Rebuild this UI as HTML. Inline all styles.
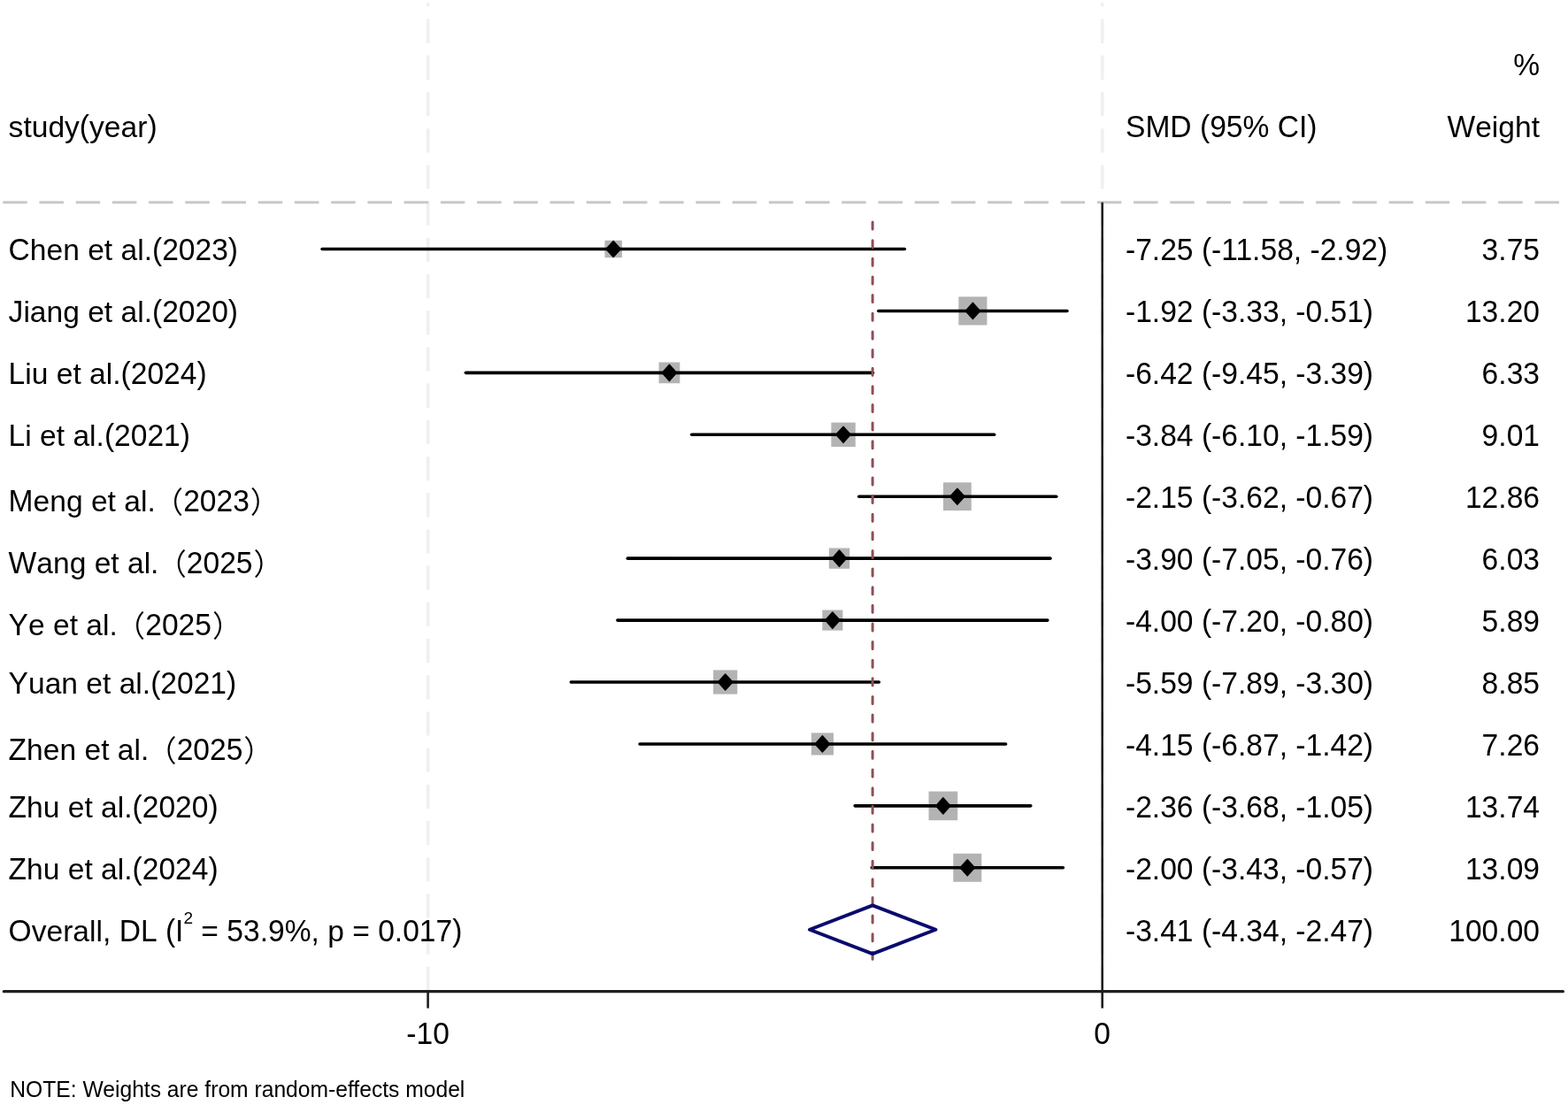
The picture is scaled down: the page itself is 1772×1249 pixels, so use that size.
<!DOCTYPE html>
<html><head><meta charset="utf-8"><title>Forest plot</title>
<style>
html,body{margin:0;padding:0;background:#fff;}
body{width:1772px;height:1249px;overflow:hidden;}
svg{display:block;}
text{font-family:"Liberation Sans","Noto Sans CJK SC",Arial,sans-serif;fill:#000;white-space:pre;}
.cj{font-family:"Noto Sans CJK SC","Liberation Sans",sans-serif;font-weight:350;}
</style></head>
<body>
<svg width="1772" height="1249" viewBox="0 0 1772 1249">
<rect x="0" y="0" width="1772" height="1249" fill="#fff"/>
<g>
<line x1="483.7" y1="3" x2="483.7" y2="1119" stroke="#f0f0f0" stroke-width="3.8" stroke-dasharray="27.2 14" stroke-dashoffset="22.6"/>
<line x1="1245.7" y1="3" x2="1245.7" y2="1119" stroke="#f0f0f0" stroke-width="3.8" stroke-dasharray="27.2 14" stroke-dashoffset="22.6"/>
<line x1="3.2" y1="228.8" x2="1766" y2="228.8" stroke="#c8c8c8" stroke-width="2.9" stroke-dasharray="27.5 13.72"/>
<line x1="1245.7" y1="228.8" x2="1245.7" y2="1120.4" stroke="#141414" stroke-width="2.4"/>
<line x1="4.3" y1="1120.7" x2="1766.4" y2="1120.7" stroke="#202020" stroke-width="3.2" stroke-linecap="round"/>
<line x1="483.6" y1="1120" x2="483.6" y2="1139.6" stroke="#1e1e1e" stroke-width="2.6"/>
<line x1="1245.7" y1="1120" x2="1245.7" y2="1139.6" stroke="#1e1e1e" stroke-width="2.6"/>
<rect x="683.47" y="271.79" width="19.42" height="19.42" fill="#b3b3b3"/>
<line x1="364.09" y1="281.50" x2="1022.27" y2="281.50" stroke="#000" stroke-width="3.6" stroke-linecap="round"/>
<polygon points="684.98,281.50 693.18,272.40 701.38,281.50 693.18,290.60" fill="#000" stroke="#000" stroke-width="1.4" stroke-linejoin="round"/>
<rect x="1083.32" y="335.37" width="32.12" height="32.12" fill="#b3b3b3"/>
<line x1="992.82" y1="351.43" x2="1205.93" y2="351.43" stroke="#000" stroke-width="3.6" stroke-linecap="round"/>
<polygon points="1091.18,351.43 1099.38,342.33 1107.58,351.43 1099.38,360.53" fill="#000" stroke="#000" stroke-width="1.4" stroke-linejoin="round"/>
<rect x="744.55" y="409.48" width="23.76" height="23.76" fill="#b3b3b3"/>
<line x1="526.42" y1="421.36" x2="986.45" y2="421.36" stroke="#000" stroke-width="3.6" stroke-linecap="round"/>
<polygon points="748.23,421.36 756.43,412.26 764.63,421.36 756.43,430.46" fill="#000" stroke="#000" stroke-width="1.4" stroke-linejoin="round"/>
<rect x="939.36" y="477.59" width="27.39" height="27.39" fill="#b3b3b3"/>
<line x1="781.72" y1="491.29" x2="1123.63" y2="491.29" stroke="#000" stroke-width="3.6" stroke-linecap="round"/>
<polygon points="944.85,491.29 953.05,482.19 961.25,491.29 953.05,500.39" fill="#000" stroke="#000" stroke-width="1.4" stroke-linejoin="round"/>
<rect x="1065.97" y="545.34" width="31.76" height="31.76" fill="#b3b3b3"/>
<line x1="970.72" y1="561.22" x2="1193.74" y2="561.22" stroke="#000" stroke-width="3.6" stroke-linecap="round"/>
<polygon points="1073.65,561.22 1081.85,552.12 1090.05,561.22 1081.85,570.32" fill="#000" stroke="#000" stroke-width="1.4" stroke-linejoin="round"/>
<rect x="936.83" y="619.50" width="23.31" height="23.31" fill="#b3b3b3"/>
<line x1="709.32" y1="631.15" x2="1186.88" y2="631.15" stroke="#000" stroke-width="3.6" stroke-linecap="round"/>
<polygon points="940.28,631.15 948.48,622.05 956.68,631.15 948.48,640.25" fill="#000" stroke="#000" stroke-width="1.4" stroke-linejoin="round"/>
<rect x="929.31" y="689.53" width="23.09" height="23.09" fill="#b3b3b3"/>
<line x1="697.89" y1="701.08" x2="1183.83" y2="701.08" stroke="#000" stroke-width="3.6" stroke-linecap="round"/>
<polygon points="932.66,701.08 940.86,691.98 949.06,701.08 940.86,710.18" fill="#000" stroke="#000" stroke-width="1.4" stroke-linejoin="round"/>
<rect x="806.09" y="757.41" width="27.19" height="27.19" fill="#b3b3b3"/>
<line x1="645.30" y1="771.01" x2="993.31" y2="771.01" stroke="#000" stroke-width="3.6" stroke-linecap="round"/>
<polygon points="811.49,771.01 819.69,761.91 827.89,771.01 819.69,780.11" fill="#000" stroke="#000" stroke-width="1.4" stroke-linejoin="round"/>
<rect x="916.88" y="828.39" width="25.09" height="25.09" fill="#b3b3b3"/>
<line x1="723.04" y1="840.94" x2="1136.58" y2="840.94" stroke="#000" stroke-width="3.6" stroke-linecap="round"/>
<polygon points="921.23,840.94 929.43,831.84 937.63,840.94 929.43,850.04" fill="#000" stroke="#000" stroke-width="1.4" stroke-linejoin="round"/>
<rect x="1049.51" y="894.54" width="32.67" height="32.67" fill="#b3b3b3"/>
<line x1="966.15" y1="910.87" x2="1164.78" y2="910.87" stroke="#000" stroke-width="3.6" stroke-linecap="round"/>
<polygon points="1057.64,910.87 1065.84,901.77 1074.04,910.87 1065.84,919.97" fill="#000" stroke="#000" stroke-width="1.4" stroke-linejoin="round"/>
<rect x="1077.28" y="964.80" width="32.00" height="32.00" fill="#b3b3b3"/>
<line x1="985.20" y1="980.80" x2="1201.36" y2="980.80" stroke="#000" stroke-width="3.6" stroke-linecap="round"/>
<polygon points="1085.08,980.80 1093.28,971.70 1101.48,980.80 1093.28,989.90" fill="#000" stroke="#000" stroke-width="1.4" stroke-linejoin="round"/>
<line x1="986.10" y1="250" x2="986.10" y2="1085.5" stroke="#8e4f56" stroke-width="3.0" stroke-dasharray="8 12.63" stroke-linecap="round" stroke-dashoffset="-1.1"/>
<polygon points="914.95,1050.73 986.10,1023.33 1057.46,1050.73 986.10,1078.13" fill="none" stroke="#0a0a6e" stroke-width="3.9" stroke-linejoin="round"/>
</g>
<text x="9.6" y="154.80" font-size="33.6" text-anchor="start"><tspan font-size="33.2" textLength="80.27" lengthAdjust="spacingAndGlyphs">study</tspan><tspan font-size="35.2" textLength="11.19" lengthAdjust="spacingAndGlyphs">(</tspan><tspan font-size="33.2" textLength="65.33" lengthAdjust="spacingAndGlyphs">year</tspan><tspan font-size="35.2" textLength="11.19" lengthAdjust="spacingAndGlyphs">)</tspan></text>
<text x="1272" y="154.80" font-size="33.6" text-anchor="start"><tspan font-size="35.2" textLength="74.62" lengthAdjust="spacingAndGlyphs">SMD</tspan><tspan font-size="33.2" textLength="9.34" lengthAdjust="spacingAndGlyphs"> </tspan><tspan font-size="35.2" textLength="78.39" lengthAdjust="spacingAndGlyphs">(95%</tspan><tspan font-size="33.2" textLength="9.34" lengthAdjust="spacingAndGlyphs"> </tspan><tspan font-size="35.2" textLength="44.77" lengthAdjust="spacingAndGlyphs">CI)</tspan></text>
<text x="1740" y="154.80" font-size="33.6" text-anchor="end"><tspan font-size="35.2" textLength="31.70" lengthAdjust="spacingAndGlyphs">W</tspan><tspan font-size="33.2" textLength="72.83" lengthAdjust="spacingAndGlyphs">eight</tspan></text>
<text x="1740" y="84.60" font-size="33.6" text-anchor="end"><tspan font-size="35.2" textLength="29.86" lengthAdjust="spacingAndGlyphs">%</tspan></text>
<text x="9.6" y="293.80" font-size="33.6" text-anchor="start"><tspan font-size="35.2" textLength="24.25" lengthAdjust="spacingAndGlyphs">C</tspan><tspan font-size="33.2" textLength="138.16" lengthAdjust="spacingAndGlyphs">hen et al.</tspan><tspan font-size="35.2" textLength="97.06" lengthAdjust="spacingAndGlyphs">(2023)</tspan></text>
<text x="1272" y="293.80" font-size="33.6" text-anchor="start"><tspan font-size="35.2" textLength="29.86" lengthAdjust="spacingAndGlyphs">-7</tspan><tspan font-size="33.2" textLength="9.34" lengthAdjust="spacingAndGlyphs">.</tspan><tspan font-size="35.2" textLength="37.36" lengthAdjust="spacingAndGlyphs">25</tspan><tspan font-size="33.2" textLength="9.34" lengthAdjust="spacingAndGlyphs"> </tspan><tspan font-size="35.2" textLength="57.23" lengthAdjust="spacingAndGlyphs">(-11</tspan><tspan font-size="33.2" textLength="9.34" lengthAdjust="spacingAndGlyphs">.</tspan><tspan font-size="35.2" textLength="37.36" lengthAdjust="spacingAndGlyphs">58</tspan><tspan font-size="33.2" textLength="18.67" lengthAdjust="spacingAndGlyphs">, </tspan><tspan font-size="35.2" textLength="29.86" lengthAdjust="spacingAndGlyphs">-2</tspan><tspan font-size="33.2" textLength="9.34" lengthAdjust="spacingAndGlyphs">.</tspan><tspan font-size="35.2" textLength="48.53" lengthAdjust="spacingAndGlyphs">92)</tspan></text>
<text x="1740" y="293.80" font-size="33.6" text-anchor="end"><tspan font-size="35.2" textLength="18.69" lengthAdjust="spacingAndGlyphs">3</tspan><tspan font-size="33.2" textLength="9.34" lengthAdjust="spacingAndGlyphs">.</tspan><tspan font-size="35.2" textLength="37.36" lengthAdjust="spacingAndGlyphs">75</tspan></text>
<text x="9.6" y="363.85" font-size="33.6" text-anchor="start"><tspan font-size="35.2" textLength="16.80" lengthAdjust="spacingAndGlyphs">J</tspan><tspan font-size="33.2" textLength="145.61" lengthAdjust="spacingAndGlyphs">iang et al.</tspan><tspan font-size="35.2" textLength="97.06" lengthAdjust="spacingAndGlyphs">(2020)</tspan></text>
<text x="1272" y="363.85" font-size="33.6" text-anchor="start"><tspan font-size="35.2" textLength="29.86" lengthAdjust="spacingAndGlyphs">-1</tspan><tspan font-size="33.2" textLength="9.34" lengthAdjust="spacingAndGlyphs">.</tspan><tspan font-size="35.2" textLength="37.36" lengthAdjust="spacingAndGlyphs">92</tspan><tspan font-size="33.2" textLength="9.34" lengthAdjust="spacingAndGlyphs"> </tspan><tspan font-size="35.2" textLength="41.05" lengthAdjust="spacingAndGlyphs">(-3</tspan><tspan font-size="33.2" textLength="9.34" lengthAdjust="spacingAndGlyphs">.</tspan><tspan font-size="35.2" textLength="37.36" lengthAdjust="spacingAndGlyphs">33</tspan><tspan font-size="33.2" textLength="18.67" lengthAdjust="spacingAndGlyphs">, </tspan><tspan font-size="35.2" textLength="29.86" lengthAdjust="spacingAndGlyphs">-0</tspan><tspan font-size="33.2" textLength="9.34" lengthAdjust="spacingAndGlyphs">.</tspan><tspan font-size="35.2" textLength="48.53" lengthAdjust="spacingAndGlyphs">51)</tspan></text>
<text x="1740" y="363.85" font-size="33.6" text-anchor="end"><tspan font-size="35.2" textLength="37.36" lengthAdjust="spacingAndGlyphs">13</tspan><tspan font-size="33.2" textLength="9.34" lengthAdjust="spacingAndGlyphs">.</tspan><tspan font-size="35.2" textLength="37.36" lengthAdjust="spacingAndGlyphs">20</tspan></text>
<text x="9.6" y="433.90" font-size="33.6" text-anchor="start"><tspan font-size="35.2" textLength="18.69" lengthAdjust="spacingAndGlyphs">L</tspan><tspan font-size="33.2" textLength="108.27" lengthAdjust="spacingAndGlyphs">iu et al.</tspan><tspan font-size="35.2" textLength="97.06" lengthAdjust="spacingAndGlyphs">(2024)</tspan></text>
<text x="1272" y="433.90" font-size="33.6" text-anchor="start"><tspan font-size="35.2" textLength="29.86" lengthAdjust="spacingAndGlyphs">-6</tspan><tspan font-size="33.2" textLength="9.34" lengthAdjust="spacingAndGlyphs">.</tspan><tspan font-size="35.2" textLength="37.36" lengthAdjust="spacingAndGlyphs">42</tspan><tspan font-size="33.2" textLength="9.34" lengthAdjust="spacingAndGlyphs"> </tspan><tspan font-size="35.2" textLength="41.05" lengthAdjust="spacingAndGlyphs">(-9</tspan><tspan font-size="33.2" textLength="9.34" lengthAdjust="spacingAndGlyphs">.</tspan><tspan font-size="35.2" textLength="37.36" lengthAdjust="spacingAndGlyphs">45</tspan><tspan font-size="33.2" textLength="18.67" lengthAdjust="spacingAndGlyphs">, </tspan><tspan font-size="35.2" textLength="29.86" lengthAdjust="spacingAndGlyphs">-3</tspan><tspan font-size="33.2" textLength="9.34" lengthAdjust="spacingAndGlyphs">.</tspan><tspan font-size="35.2" textLength="48.53" lengthAdjust="spacingAndGlyphs">39)</tspan></text>
<text x="1740" y="433.90" font-size="33.6" text-anchor="end"><tspan font-size="35.2" textLength="18.69" lengthAdjust="spacingAndGlyphs">6</tspan><tspan font-size="33.2" textLength="9.34" lengthAdjust="spacingAndGlyphs">.</tspan><tspan font-size="35.2" textLength="37.36" lengthAdjust="spacingAndGlyphs">33</tspan></text>
<text x="9.6" y="503.95" font-size="33.6" text-anchor="start"><tspan font-size="35.2" textLength="18.69" lengthAdjust="spacingAndGlyphs">L</tspan><tspan font-size="33.2" textLength="89.59" lengthAdjust="spacingAndGlyphs">i et al.</tspan><tspan font-size="35.2" textLength="97.06" lengthAdjust="spacingAndGlyphs">(2021)</tspan></text>
<text x="1272" y="503.95" font-size="33.6" text-anchor="start"><tspan font-size="35.2" textLength="29.86" lengthAdjust="spacingAndGlyphs">-3</tspan><tspan font-size="33.2" textLength="9.34" lengthAdjust="spacingAndGlyphs">.</tspan><tspan font-size="35.2" textLength="37.36" lengthAdjust="spacingAndGlyphs">84</tspan><tspan font-size="33.2" textLength="9.34" lengthAdjust="spacingAndGlyphs"> </tspan><tspan font-size="35.2" textLength="41.05" lengthAdjust="spacingAndGlyphs">(-6</tspan><tspan font-size="33.2" textLength="9.34" lengthAdjust="spacingAndGlyphs">.</tspan><tspan font-size="35.2" textLength="37.36" lengthAdjust="spacingAndGlyphs">10</tspan><tspan font-size="33.2" textLength="18.67" lengthAdjust="spacingAndGlyphs">, </tspan><tspan font-size="35.2" textLength="29.86" lengthAdjust="spacingAndGlyphs">-1</tspan><tspan font-size="33.2" textLength="9.34" lengthAdjust="spacingAndGlyphs">.</tspan><tspan font-size="35.2" textLength="48.53" lengthAdjust="spacingAndGlyphs">59)</tspan></text>
<text x="1740" y="503.95" font-size="33.6" text-anchor="end"><tspan font-size="35.2" textLength="18.69" lengthAdjust="spacingAndGlyphs">9</tspan><tspan font-size="33.2" textLength="9.34" lengthAdjust="spacingAndGlyphs">.</tspan><tspan font-size="35.2" textLength="37.36" lengthAdjust="spacingAndGlyphs">01</tspan></text>
<text x="9.6" y="578.30" font-size="33.6" text-anchor="start"><tspan font-size="35.2" textLength="27.98" lengthAdjust="spacingAndGlyphs">M</tspan><tspan font-size="33.2" textLength="138.16" lengthAdjust="spacingAndGlyphs">eng et al.</tspan><tspan class="cj" dx="-2.2" dy="2">（</tspan><tspan dy="-2" font-size="35.2" textLength="74.70" lengthAdjust="spacingAndGlyphs">2023</tspan><tspan class="cj" dx="1" dy="2">）</tspan></text>
<text x="1272" y="574.00" font-size="33.6" text-anchor="start"><tspan font-size="35.2" textLength="29.86" lengthAdjust="spacingAndGlyphs">-2</tspan><tspan font-size="33.2" textLength="9.34" lengthAdjust="spacingAndGlyphs">.</tspan><tspan font-size="35.2" textLength="37.36" lengthAdjust="spacingAndGlyphs">15</tspan><tspan font-size="33.2" textLength="9.34" lengthAdjust="spacingAndGlyphs"> </tspan><tspan font-size="35.2" textLength="41.05" lengthAdjust="spacingAndGlyphs">(-3</tspan><tspan font-size="33.2" textLength="9.34" lengthAdjust="spacingAndGlyphs">.</tspan><tspan font-size="35.2" textLength="37.36" lengthAdjust="spacingAndGlyphs">62</tspan><tspan font-size="33.2" textLength="18.67" lengthAdjust="spacingAndGlyphs">, </tspan><tspan font-size="35.2" textLength="29.86" lengthAdjust="spacingAndGlyphs">-0</tspan><tspan font-size="33.2" textLength="9.34" lengthAdjust="spacingAndGlyphs">.</tspan><tspan font-size="35.2" textLength="48.53" lengthAdjust="spacingAndGlyphs">67)</tspan></text>
<text x="1740" y="574.00" font-size="33.6" text-anchor="end"><tspan font-size="35.2" textLength="37.36" lengthAdjust="spacingAndGlyphs">12</tspan><tspan font-size="33.2" textLength="9.34" lengthAdjust="spacingAndGlyphs">.</tspan><tspan font-size="35.2" textLength="37.36" lengthAdjust="spacingAndGlyphs">86</tspan></text>
<text x="9.6" y="648.35" font-size="33.6" text-anchor="start"><tspan font-size="35.2" textLength="31.70" lengthAdjust="spacingAndGlyphs">W</tspan><tspan font-size="33.2" textLength="138.16" lengthAdjust="spacingAndGlyphs">ang et al.</tspan><tspan class="cj" dx="-2.2" dy="2">（</tspan><tspan dy="-2" font-size="35.2" textLength="74.70" lengthAdjust="spacingAndGlyphs">2025</tspan><tspan class="cj" dx="1" dy="2">）</tspan></text>
<text x="1272" y="644.05" font-size="33.6" text-anchor="start"><tspan font-size="35.2" textLength="29.86" lengthAdjust="spacingAndGlyphs">-3</tspan><tspan font-size="33.2" textLength="9.34" lengthAdjust="spacingAndGlyphs">.</tspan><tspan font-size="35.2" textLength="37.36" lengthAdjust="spacingAndGlyphs">90</tspan><tspan font-size="33.2" textLength="9.34" lengthAdjust="spacingAndGlyphs"> </tspan><tspan font-size="35.2" textLength="41.05" lengthAdjust="spacingAndGlyphs">(-7</tspan><tspan font-size="33.2" textLength="9.34" lengthAdjust="spacingAndGlyphs">.</tspan><tspan font-size="35.2" textLength="37.36" lengthAdjust="spacingAndGlyphs">05</tspan><tspan font-size="33.2" textLength="18.67" lengthAdjust="spacingAndGlyphs">, </tspan><tspan font-size="35.2" textLength="29.86" lengthAdjust="spacingAndGlyphs">-0</tspan><tspan font-size="33.2" textLength="9.34" lengthAdjust="spacingAndGlyphs">.</tspan><tspan font-size="35.2" textLength="48.53" lengthAdjust="spacingAndGlyphs">76)</tspan></text>
<text x="1740" y="644.05" font-size="33.6" text-anchor="end"><tspan font-size="35.2" textLength="18.69" lengthAdjust="spacingAndGlyphs">6</tspan><tspan font-size="33.2" textLength="9.34" lengthAdjust="spacingAndGlyphs">.</tspan><tspan font-size="35.2" textLength="37.36" lengthAdjust="spacingAndGlyphs">03</tspan></text>
<text x="9.6" y="718.40" font-size="33.6" text-anchor="start"><tspan font-size="35.2" textLength="22.41" lengthAdjust="spacingAndGlyphs">Y</tspan><tspan font-size="33.2" textLength="100.81" lengthAdjust="spacingAndGlyphs">e et al.</tspan><tspan class="cj" dx="-2.2" dy="2">（</tspan><tspan dy="-2" font-size="35.2" textLength="74.70" lengthAdjust="spacingAndGlyphs">2025</tspan><tspan class="cj" dx="1" dy="2">）</tspan></text>
<text x="1272" y="714.10" font-size="33.6" text-anchor="start"><tspan font-size="35.2" textLength="29.86" lengthAdjust="spacingAndGlyphs">-4</tspan><tspan font-size="33.2" textLength="9.34" lengthAdjust="spacingAndGlyphs">.</tspan><tspan font-size="35.2" textLength="37.36" lengthAdjust="spacingAndGlyphs">00</tspan><tspan font-size="33.2" textLength="9.34" lengthAdjust="spacingAndGlyphs"> </tspan><tspan font-size="35.2" textLength="41.05" lengthAdjust="spacingAndGlyphs">(-7</tspan><tspan font-size="33.2" textLength="9.34" lengthAdjust="spacingAndGlyphs">.</tspan><tspan font-size="35.2" textLength="37.36" lengthAdjust="spacingAndGlyphs">20</tspan><tspan font-size="33.2" textLength="18.67" lengthAdjust="spacingAndGlyphs">, </tspan><tspan font-size="35.2" textLength="29.86" lengthAdjust="spacingAndGlyphs">-0</tspan><tspan font-size="33.2" textLength="9.34" lengthAdjust="spacingAndGlyphs">.</tspan><tspan font-size="35.2" textLength="48.53" lengthAdjust="spacingAndGlyphs">80)</tspan></text>
<text x="1740" y="714.10" font-size="33.6" text-anchor="end"><tspan font-size="35.2" textLength="18.69" lengthAdjust="spacingAndGlyphs">5</tspan><tspan font-size="33.2" textLength="9.34" lengthAdjust="spacingAndGlyphs">.</tspan><tspan font-size="35.2" textLength="37.36" lengthAdjust="spacingAndGlyphs">89</tspan></text>
<text x="9.6" y="784.15" font-size="33.6" text-anchor="start"><tspan font-size="35.2" textLength="22.41" lengthAdjust="spacingAndGlyphs">Y</tspan><tspan font-size="33.2" textLength="138.16" lengthAdjust="spacingAndGlyphs">uan et al.</tspan><tspan font-size="35.2" textLength="97.06" lengthAdjust="spacingAndGlyphs">(2021)</tspan></text>
<text x="1272" y="784.15" font-size="33.6" text-anchor="start"><tspan font-size="35.2" textLength="29.86" lengthAdjust="spacingAndGlyphs">-5</tspan><tspan font-size="33.2" textLength="9.34" lengthAdjust="spacingAndGlyphs">.</tspan><tspan font-size="35.2" textLength="37.36" lengthAdjust="spacingAndGlyphs">59</tspan><tspan font-size="33.2" textLength="9.34" lengthAdjust="spacingAndGlyphs"> </tspan><tspan font-size="35.2" textLength="41.05" lengthAdjust="spacingAndGlyphs">(-7</tspan><tspan font-size="33.2" textLength="9.34" lengthAdjust="spacingAndGlyphs">.</tspan><tspan font-size="35.2" textLength="37.36" lengthAdjust="spacingAndGlyphs">89</tspan><tspan font-size="33.2" textLength="18.67" lengthAdjust="spacingAndGlyphs">, </tspan><tspan font-size="35.2" textLength="29.86" lengthAdjust="spacingAndGlyphs">-3</tspan><tspan font-size="33.2" textLength="9.34" lengthAdjust="spacingAndGlyphs">.</tspan><tspan font-size="35.2" textLength="48.53" lengthAdjust="spacingAndGlyphs">30)</tspan></text>
<text x="1740" y="784.15" font-size="33.6" text-anchor="end"><tspan font-size="35.2" textLength="18.69" lengthAdjust="spacingAndGlyphs">8</tspan><tspan font-size="33.2" textLength="9.34" lengthAdjust="spacingAndGlyphs">.</tspan><tspan font-size="35.2" textLength="37.36" lengthAdjust="spacingAndGlyphs">85</tspan></text>
<text x="9.6" y="858.50" font-size="33.6" text-anchor="start"><tspan font-size="35.2" textLength="20.52" lengthAdjust="spacingAndGlyphs">Z</tspan><tspan font-size="33.2" textLength="138.16" lengthAdjust="spacingAndGlyphs">hen et al.</tspan><tspan class="cj" dx="-2.2" dy="2">（</tspan><tspan dy="-2" font-size="35.2" textLength="74.70" lengthAdjust="spacingAndGlyphs">2025</tspan><tspan class="cj" dx="1" dy="2">）</tspan></text>
<text x="1272" y="854.20" font-size="33.6" text-anchor="start"><tspan font-size="35.2" textLength="29.86" lengthAdjust="spacingAndGlyphs">-4</tspan><tspan font-size="33.2" textLength="9.34" lengthAdjust="spacingAndGlyphs">.</tspan><tspan font-size="35.2" textLength="37.36" lengthAdjust="spacingAndGlyphs">15</tspan><tspan font-size="33.2" textLength="9.34" lengthAdjust="spacingAndGlyphs"> </tspan><tspan font-size="35.2" textLength="41.05" lengthAdjust="spacingAndGlyphs">(-6</tspan><tspan font-size="33.2" textLength="9.34" lengthAdjust="spacingAndGlyphs">.</tspan><tspan font-size="35.2" textLength="37.36" lengthAdjust="spacingAndGlyphs">87</tspan><tspan font-size="33.2" textLength="18.67" lengthAdjust="spacingAndGlyphs">, </tspan><tspan font-size="35.2" textLength="29.86" lengthAdjust="spacingAndGlyphs">-1</tspan><tspan font-size="33.2" textLength="9.34" lengthAdjust="spacingAndGlyphs">.</tspan><tspan font-size="35.2" textLength="48.53" lengthAdjust="spacingAndGlyphs">42)</tspan></text>
<text x="1740" y="854.20" font-size="33.6" text-anchor="end"><tspan font-size="35.2" textLength="18.69" lengthAdjust="spacingAndGlyphs">7</tspan><tspan font-size="33.2" textLength="9.34" lengthAdjust="spacingAndGlyphs">.</tspan><tspan font-size="35.2" textLength="37.36" lengthAdjust="spacingAndGlyphs">26</tspan></text>
<text x="9.6" y="924.25" font-size="33.6" text-anchor="start"><tspan font-size="35.2" textLength="20.52" lengthAdjust="spacingAndGlyphs">Z</tspan><tspan font-size="33.2" textLength="119.48" lengthAdjust="spacingAndGlyphs">hu et al.</tspan><tspan font-size="35.2" textLength="97.06" lengthAdjust="spacingAndGlyphs">(2020)</tspan></text>
<text x="1272" y="924.25" font-size="33.6" text-anchor="start"><tspan font-size="35.2" textLength="29.86" lengthAdjust="spacingAndGlyphs">-2</tspan><tspan font-size="33.2" textLength="9.34" lengthAdjust="spacingAndGlyphs">.</tspan><tspan font-size="35.2" textLength="37.36" lengthAdjust="spacingAndGlyphs">36</tspan><tspan font-size="33.2" textLength="9.34" lengthAdjust="spacingAndGlyphs"> </tspan><tspan font-size="35.2" textLength="41.05" lengthAdjust="spacingAndGlyphs">(-3</tspan><tspan font-size="33.2" textLength="9.34" lengthAdjust="spacingAndGlyphs">.</tspan><tspan font-size="35.2" textLength="37.36" lengthAdjust="spacingAndGlyphs">68</tspan><tspan font-size="33.2" textLength="18.67" lengthAdjust="spacingAndGlyphs">, </tspan><tspan font-size="35.2" textLength="29.86" lengthAdjust="spacingAndGlyphs">-1</tspan><tspan font-size="33.2" textLength="9.34" lengthAdjust="spacingAndGlyphs">.</tspan><tspan font-size="35.2" textLength="48.53" lengthAdjust="spacingAndGlyphs">05)</tspan></text>
<text x="1740" y="924.25" font-size="33.6" text-anchor="end"><tspan font-size="35.2" textLength="37.36" lengthAdjust="spacingAndGlyphs">13</tspan><tspan font-size="33.2" textLength="9.34" lengthAdjust="spacingAndGlyphs">.</tspan><tspan font-size="35.2" textLength="37.36" lengthAdjust="spacingAndGlyphs">74</tspan></text>
<text x="9.6" y="994.30" font-size="33.6" text-anchor="start"><tspan font-size="35.2" textLength="20.52" lengthAdjust="spacingAndGlyphs">Z</tspan><tspan font-size="33.2" textLength="119.48" lengthAdjust="spacingAndGlyphs">hu et al.</tspan><tspan font-size="35.2" textLength="97.06" lengthAdjust="spacingAndGlyphs">(2024)</tspan></text>
<text x="1272" y="994.30" font-size="33.6" text-anchor="start"><tspan font-size="35.2" textLength="29.86" lengthAdjust="spacingAndGlyphs">-2</tspan><tspan font-size="33.2" textLength="9.34" lengthAdjust="spacingAndGlyphs">.</tspan><tspan font-size="35.2" textLength="37.36" lengthAdjust="spacingAndGlyphs">00</tspan><tspan font-size="33.2" textLength="9.34" lengthAdjust="spacingAndGlyphs"> </tspan><tspan font-size="35.2" textLength="41.05" lengthAdjust="spacingAndGlyphs">(-3</tspan><tspan font-size="33.2" textLength="9.34" lengthAdjust="spacingAndGlyphs">.</tspan><tspan font-size="35.2" textLength="37.36" lengthAdjust="spacingAndGlyphs">43</tspan><tspan font-size="33.2" textLength="18.67" lengthAdjust="spacingAndGlyphs">, </tspan><tspan font-size="35.2" textLength="29.86" lengthAdjust="spacingAndGlyphs">-0</tspan><tspan font-size="33.2" textLength="9.34" lengthAdjust="spacingAndGlyphs">.</tspan><tspan font-size="35.2" textLength="48.53" lengthAdjust="spacingAndGlyphs">57)</tspan></text>
<text x="1740" y="994.30" font-size="33.6" text-anchor="end"><tspan font-size="35.2" textLength="37.36" lengthAdjust="spacingAndGlyphs">13</tspan><tspan font-size="33.2" textLength="9.34" lengthAdjust="spacingAndGlyphs">.</tspan><tspan font-size="35.2" textLength="37.36" lengthAdjust="spacingAndGlyphs">09</tspan></text>
<text x="9.6" y="1064.35" font-size="33.6" text-anchor="start"><tspan font-size="35.2" textLength="26.12" lengthAdjust="spacingAndGlyphs">O</tspan><tspan font-size="33.2" textLength="98.91" lengthAdjust="spacingAndGlyphs">verall, </tspan><tspan font-size="35.2" textLength="42.94" lengthAdjust="spacingAndGlyphs">DL</tspan><tspan font-size="33.2" textLength="9.34" lengthAdjust="spacingAndGlyphs"> </tspan><tspan font-size="35.2" textLength="20.52" lengthAdjust="spacingAndGlyphs">(I</tspan><tspan font-size="19" dy="-20">2</tspan><tspan dy="20" font-size="33.2" textLength="38.28" lengthAdjust="spacingAndGlyphs"> = </tspan><tspan font-size="35.2" textLength="37.36" lengthAdjust="spacingAndGlyphs">53</tspan><tspan font-size="33.2" textLength="9.34" lengthAdjust="spacingAndGlyphs">.</tspan><tspan font-size="35.2" textLength="48.53" lengthAdjust="spacingAndGlyphs">9%</tspan><tspan font-size="33.2" textLength="18.67" lengthAdjust="spacingAndGlyphs">, </tspan><tspan font-size="33.2" textLength="18.69" lengthAdjust="spacingAndGlyphs">p</tspan><tspan font-size="33.2" textLength="38.28" lengthAdjust="spacingAndGlyphs"> = </tspan><tspan font-size="35.2" textLength="18.69" lengthAdjust="spacingAndGlyphs">0</tspan><tspan font-size="33.2" textLength="9.34" lengthAdjust="spacingAndGlyphs">.</tspan><tspan font-size="35.2" textLength="67.22" lengthAdjust="spacingAndGlyphs">017)</tspan></text>
<text x="1272" y="1064.35" font-size="33.6" text-anchor="start"><tspan font-size="35.2" textLength="29.86" lengthAdjust="spacingAndGlyphs">-3</tspan><tspan font-size="33.2" textLength="9.34" lengthAdjust="spacingAndGlyphs">.</tspan><tspan font-size="35.2" textLength="37.36" lengthAdjust="spacingAndGlyphs">41</tspan><tspan font-size="33.2" textLength="9.34" lengthAdjust="spacingAndGlyphs"> </tspan><tspan font-size="35.2" textLength="41.05" lengthAdjust="spacingAndGlyphs">(-4</tspan><tspan font-size="33.2" textLength="9.34" lengthAdjust="spacingAndGlyphs">.</tspan><tspan font-size="35.2" textLength="37.36" lengthAdjust="spacingAndGlyphs">34</tspan><tspan font-size="33.2" textLength="18.67" lengthAdjust="spacingAndGlyphs">, </tspan><tspan font-size="35.2" textLength="29.86" lengthAdjust="spacingAndGlyphs">-2</tspan><tspan font-size="33.2" textLength="9.34" lengthAdjust="spacingAndGlyphs">.</tspan><tspan font-size="35.2" textLength="48.53" lengthAdjust="spacingAndGlyphs">47)</tspan></text>
<text x="1740" y="1064.35" font-size="33.6" text-anchor="end"><tspan font-size="35.2" textLength="56.03" lengthAdjust="spacingAndGlyphs">100</tspan><tspan font-size="33.2" textLength="9.34" lengthAdjust="spacingAndGlyphs">.</tspan><tspan font-size="35.2" textLength="37.36" lengthAdjust="spacingAndGlyphs">00</tspan></text>
<text x="483.6" y="1180.00" font-size="33.6" text-anchor="middle"><tspan font-size="35.2" textLength="48.53" lengthAdjust="spacingAndGlyphs">-10</tspan></text>
<text x="1245.7" y="1180.00" font-size="33.6" text-anchor="middle"><tspan font-size="35.2" textLength="18.69" lengthAdjust="spacingAndGlyphs">0</tspan></text>
<text transform="translate(11.3,1239.8) scale(1,1.03)" font-size="24.65">NOTE: Weights are from random-effects model</text>
</svg>
</body></html>
